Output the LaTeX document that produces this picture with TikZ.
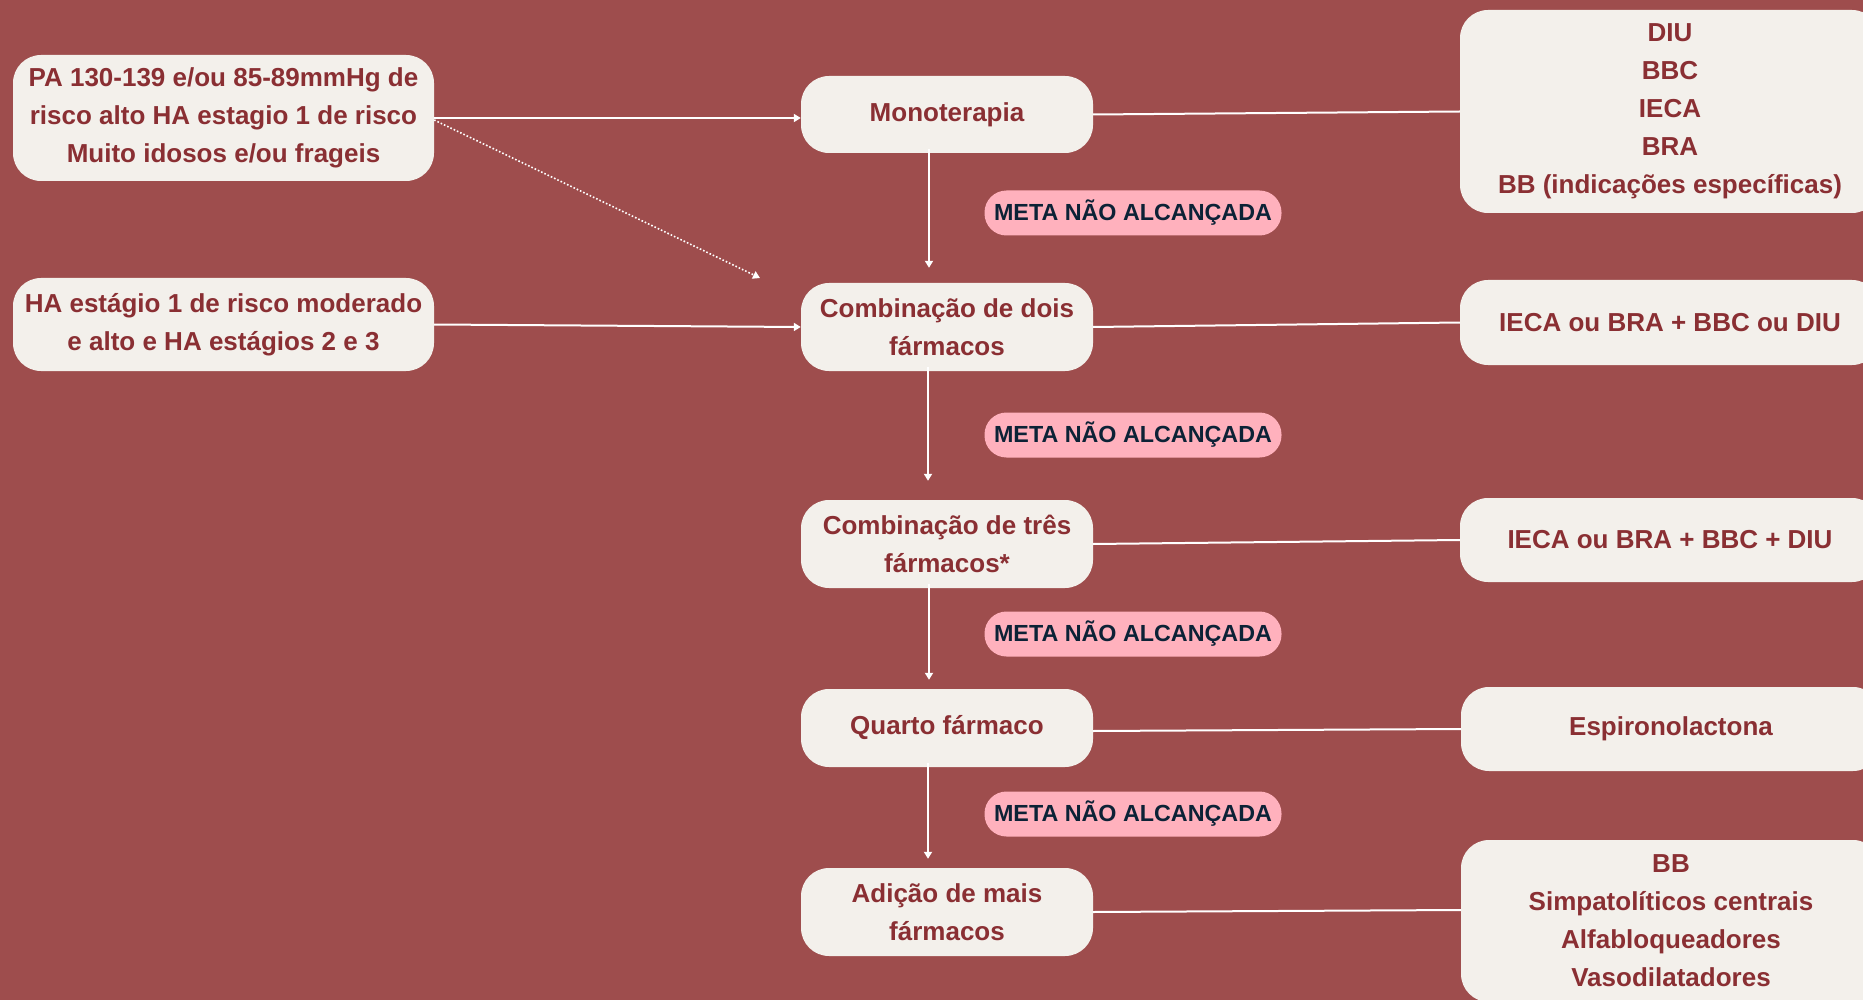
\documentclass[tikz,border=0pt]{standalone}
\usepackage{fontspec}
\setmainfont{Liberation Sans}
\usetikzlibrary{arrows.meta}
\definecolor{bg}{HTML}{9E4D4D}
\definecolor{cream}{HTML}{F3F0EB}
\definecolor{wine}{HTML}{8A2F33}
\definecolor{pinkpill}{HTML}{FFB1BD}
\definecolor{navy}{HTML}{0C2236}
\tikzset{
  box/.style={fill=cream, rounded corners=28pt, text=wine, align=center, inner sep=0pt,
    font=\bfseries\fontsize{26}{38}\selectfont},
  stagebox/.style={box, minimum width=292pt},
  sidebox/.style={box, minimum width=420pt},
  pill/.style={fill=pinkpill, rounded corners=22pt, text=navy, inner sep=0pt,
    minimum width=297pt, minimum height=45pt, font=\bfseries\fontsize{23.3}{28}\selectfont},
  link/.style={draw=white, line width=2pt},
  arr/.style={link, -{Triangle[length=7pt,width=8pt]}},
  dotarr/.style={draw=white, line width=1.6pt, dotted, -{Triangle[length=7pt,width=8pt]}}
}
\begin{document}
\begin{tikzpicture}[x=1pt,y=-1pt]
\useasboundingbox (0,0) rectangle (1863,1000);
\clip (0,0) rectangle (1863,1000);
\fill[bg] (0,0) rectangle (1863,1000);

% entry conditions
\node[box, minimum width=421pt, minimum height=126pt] (pa) at (223.5,118)
  {PA 130-139 e/ou 85-89mmHg de\\risco alto HA estagio 1 de risco\\Muito idosos e/ou frageis};
\node[box, minimum width=421pt, minimum height=93pt] (ha) at (223.5,324.5)
  {HA estágio 1 de risco moderado\\e alto e HA estágios 2 e 3};

% treatment stages
\node[stagebox, minimum height=77pt] (mono) at (947,114.5) {Monoterapia};
\node[stagebox, minimum height=88pt] (dois) at (947,327) {Combinação de dois\\fármacos};
\node[stagebox, minimum height=88pt] (tres) at (947,544) {Combinação de três\\fármacos*};
\node[stagebox, minimum height=78pt] (quarto) at (947,728) {Quarto fármaco};
\node[stagebox, minimum height=88pt] (adic) at (947,912) {Adição de mais\\fármacos};

% drug options
\node[sidebox, minimum height=203pt] (r1) at (1670,111.5)
  {DIU\\BBC\\IECA\\BRA\\BB (indicações específicas)};
\node[sidebox, minimum height=85pt] (r2) at (1670,322.5) {IECA ou BRA + BBC ou DIU};
\node[sidebox, minimum height=84pt] (r3) at (1670,540) {IECA ou BRA + BBC + DIU};
\node[sidebox, minimum height=84pt] (r4) at (1671,729) {Espironolactona};
\node[sidebox, minimum height=162pt] (r5) at (1671,921)
  {BB\\Simpatolíticos centrais\\Alfabloqueadores\\Vasodilatadores};

% goal-not-reached labels
\node[pill] (m1) at (1133,213) {META NÃO ALCANÇADA};
\node[pill] (m2) at (1133,435) {META NÃO ALCANÇADA};
\node[pill] (m3) at (1133,634) {META NÃO ALCANÇADA};
\node[pill] (m4) at (1133,814) {META NÃO ALCANÇADA};

% entry arrows
\draw[arr] (pa.east) -- (mono.west |- pa.east);
\draw[arr] (ha.east) -- (dois.west);
\coordinate (dotend) at (760,278);
\draw[dotarr] ([yshift=-2pt]pa.east) -- (dotend);

% stage-to-stage arrows
\draw[arr] ([xshift=-18pt,yshift=4pt]mono.south) -- ([xshift=-18pt,yshift=15pt]dois.north);
\draw[arr] ([xshift=-19pt,yshift=4pt]dois.south) -- ([xshift=-19pt,yshift=19pt]tres.north);
\draw[arr] ([xshift=-18pt,yshift=4pt]tres.south) -- ([xshift=-18pt,yshift=9pt]quarto.north);
\draw[arr] ([xshift=-19pt,yshift=4pt]quarto.south) -- ([xshift=-19pt,yshift=9pt]adic.north);

% stage-to-option links
\draw[link] (mono.east) -- (r1.west);
\draw[link] (dois.east) -- (r2.west);
\draw[link] (tres.east) -- (r3.west);
\draw[link] ([yshift=-3pt]quarto.east) -- (r4.west);
\draw[link] (adic.east) -- ([yshift=11pt]r5.west);
\end{tikzpicture}
\end{document}
